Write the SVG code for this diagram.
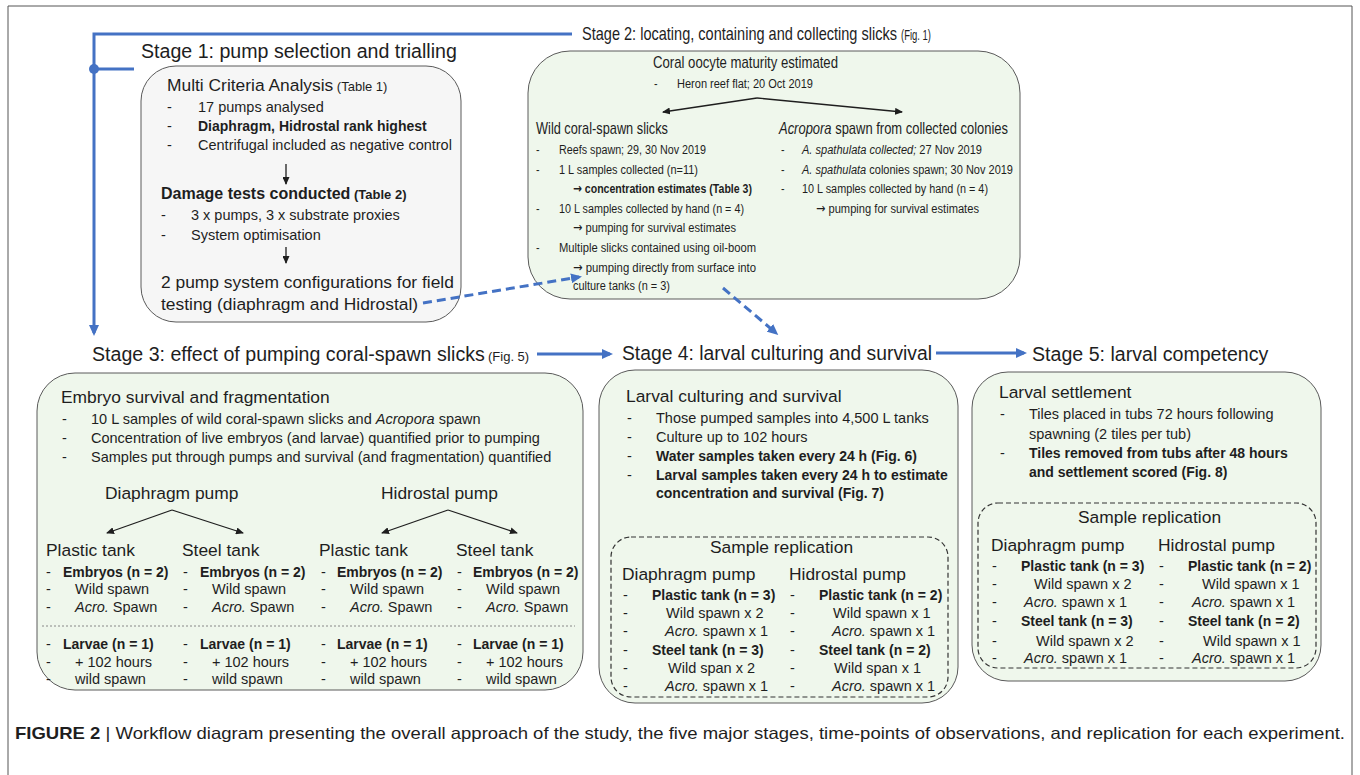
<svg xmlns="http://www.w3.org/2000/svg" width="1360" height="775" viewBox="0 0 1360 775">
<style>
text{font-family:"Liberation Sans",Arial,sans-serif;fill:#1e1e1e}
.t1{font-size:19.6px}
.h{font-size:17.4px}
.b{font-size:14.5px}
.bb{font-size:14px;font-weight:bold}
.sm{font-size:13px}
.hb{font-size:16px;font-weight:bold}
.s2t{font-size:18.2px}
.s2h{font-size:16.4px}
.s2{font-size:13.5px}
.ar{font-family:"DejaVu Sans",sans-serif}
.i{font-style:italic}
.box{stroke:#5a5a5a;stroke-width:1}
.green{fill:#eff7ec}
.gray{fill:#f6f6f6}
.dbox{fill:none;stroke:#333;stroke-width:1.2;stroke-dasharray:5 3}
.blue{fill:none;stroke:#4472c4;stroke-width:3}
.bdash{fill:none;stroke:#4472c4;stroke-width:3;stroke-dasharray:9 5}
.karr{fill:none;stroke:#1e1e1e;stroke-width:1.3}
</style>
<defs>
<marker id="ba" markerUnits="userSpaceOnUse" markerWidth="11" markerHeight="10" refX="8" refY="5" orient="auto"><path d="M0,0 L11,5 L0,10 z" fill="#4472c4"/></marker>
<marker id="ka" markerUnits="userSpaceOnUse" markerWidth="8" markerHeight="7" refX="7" refY="3.5" orient="auto"><path d="M0,0 L8,3.5 L0,7 z" fill="#1e1e1e"/></marker>
</defs>
<path d="M8,776 V6 H1352 V776" fill="none" stroke="#555" stroke-width="1"/>

<g id="stage1">
<text class="t1" x="141" y="58">Stage 1: pump selection and trialling</text>
<rect class="box gray" x="141" y="66" width="320" height="256" rx="35" ry="35"/>
<text x="167" y="91"><tspan class="h">Multi Criteria Analysis</tspan><tspan class="sm"> (Table 1)</tspan></text>
<text class="b" x="167" y="112">-</text><text class="b" x="198" y="112">17 pumps analysed</text>
<text class="b" x="167" y="131">-</text><text class="bb" x="198" y="131">Diaphragm, Hidrostal rank highest</text>
<text class="b" x="167" y="150">-</text><text class="b" x="198" y="150">Centrifugal included as negative control</text>
<path class="karr" d="M286,164 V184" marker-end="url(#ka)"/>
<text x="161" y="199"><tspan class="hb">Damage tests conducted</tspan><tspan class="sm" font-weight="bold"> (Table 2)</tspan></text>
<text class="b" x="161" y="220">-</text><text class="b" x="191" y="220">3 x pumps, 3 x substrate proxies</text>
<text class="b" x="161" y="240">-</text><text class="b" x="191" y="240">System optimisation</text>
<path class="karr" d="M286,247 V263" marker-end="url(#ka)"/>
<text class="h" x="161" y="288">2 pump system configurations for field</text>
<text class="h" x="161" y="310">testing (diaphragm and Hidrostal)</text>
</g>

<g id="stage2">
<rect class="box green" x="528" y="51" width="492" height="248" rx="42" ry="42"/>
<path class="karr" d="M757,98 L663,112" marker-end="url(#ka)"/>
<path class="karr" d="M757,98 L902,112" marker-end="url(#ka)"/>
<g transform="translate(528,0) scale(0.8,1)">
<text class="s2t" x="67.5" y="40" textLength="393.75" lengthAdjust="spacingAndGlyphs">Stage 2: locating, containing and collecting slicks</text>
<text x="466.25" y="40" font-size="14.5" textLength="37.5" lengthAdjust="spacingAndGlyphs">(Fig. 1)</text>
<text class="s2h" x="156.25" y="68" textLength="231.25" lengthAdjust="spacingAndGlyphs">Coral oocyte maturity estimated</text>
<text class="s2" x="157.5" y="88">-</text>
<text class="s2" x="186.25" y="88" textLength="170" lengthAdjust="spacingAndGlyphs">Heron reef flat; 20 Oct 2019</text>
<text class="s2h" x="10" y="134" textLength="165" lengthAdjust="spacingAndGlyphs">Wild coral-spawn slicks</text>
<text class="s2h" x="313.75" y="134" textLength="286.25" lengthAdjust="spacingAndGlyphs"><tspan class="i">Acropora</tspan> spawn from collected colonies</text>
<text class="s2" x="10" y="154">-</text>
<text class="s2" x="38.75" y="154" textLength="183.75" lengthAdjust="spacingAndGlyphs">Reefs spawn; 29, 30 Nov 2019</text>
<text class="s2" x="10" y="174">-</text>
<text class="s2" x="38.75" y="174" textLength="173.75" lengthAdjust="spacingAndGlyphs">1 L samples collected (n=11)</text>
<text class="s2" x="56.25" y="193" font-weight="bold" textLength="223.75" lengthAdjust="spacingAndGlyphs"><tspan class="ar">→</tspan> concentration estimates (Table 3)</text>
<text class="s2" x="10" y="213">-</text>
<text class="s2" x="38.75" y="213" textLength="231.25" lengthAdjust="spacingAndGlyphs">10 L samples collected by hand (n = 4)</text>
<text class="s2" x="56.25" y="232" textLength="203.75" lengthAdjust="spacingAndGlyphs"><tspan class="ar">→</tspan> pumping for survival estimates</text>
<text class="s2" x="10" y="252">-</text>
<text class="s2" x="38.75" y="252" textLength="246.25" lengthAdjust="spacingAndGlyphs">Multiple slicks contained using oil-boom</text>
<text class="s2" x="56.25" y="272" textLength="228.75" lengthAdjust="spacingAndGlyphs"><tspan class="ar">→</tspan> pumping directly from surface into</text>
<text class="s2" x="56.25" y="290" textLength="121.25" lengthAdjust="spacingAndGlyphs">culture tanks (n = 3)</text>
<text class="s2" x="316.25" y="154">-</text>
<text class="s2" x="342.5" y="154" textLength="225" lengthAdjust="spacingAndGlyphs"><tspan class="i">A. spathulata collected;</tspan> 27 Nov 2019</text>
<text class="s2" x="316.25" y="174">-</text>
<text class="s2" x="342.5" y="174" textLength="263.75" lengthAdjust="spacingAndGlyphs"><tspan class="i">A. spathulata</tspan> colonies spawn; 30 Nov 2019</text>
<text class="s2" x="316.25" y="193">-</text>
<text class="s2" x="342.5" y="193" textLength="232.5" lengthAdjust="spacingAndGlyphs">10 L samples collected by hand (n = 4)</text>
<text class="s2" x="360" y="213" textLength="203.75" lengthAdjust="spacingAndGlyphs"><tspan class="ar">→</tspan> pumping for survival estimates</text>
</g>
</g>

<g id="stage3">
<text class="t1" x="92" y="361">Stage 3: effect of pumping coral-spawn slicks</text>
<text class="sm" x="488" y="361">(Fig. 5)</text>
<rect class="box green" x="37" y="373" width="546" height="317" rx="38" ry="38"/>
<text class="h" x="61" y="403">Embryo survival and fragmentation</text>
<text class="b" x="62" y="424">-</text><text class="b" x="91" y="424">10 L samples of wild coral-spawn slicks and <tspan class="i">Acropora</tspan> spawn</text>
<text class="b" x="62" y="443">-</text><text class="b" x="91" y="443">Concentration of live embryos (and larvae) quantified prior to pumping</text>
<text class="b" x="62" y="462">-</text><text class="b" x="91" y="462">Samples put through pumps and survival (and fragmentation) quantified</text>
<text class="h" x="105" y="499">Diaphragm pump</text>
<text class="h" x="381" y="499">Hidrostal pump</text>
<path class="karr" d="M172,510 L107,533" marker-end="url(#ka)"/>
<path class="karr" d="M172,510 L243,533" marker-end="url(#ka)"/>
<path class="karr" d="M448,510 L382,533" marker-end="url(#ka)"/>
<path class="karr" d="M448,510 L517,533" marker-end="url(#ka)"/>
<text class="h" x="46" y="556">Plastic tank</text>
<text class="h" x="182" y="556">Steel tank</text>
<text class="h" x="319" y="556">Plastic tank</text>
<text class="h" x="456" y="556">Steel tank</text>
<g class="b">
<text x="46" y="577">-</text><text x="46" y="594">-</text><text x="46" y="612">-</text>
<text x="183" y="577">-</text><text x="183" y="594">-</text><text x="183" y="612">-</text>
<text x="321" y="577">-</text><text x="321" y="594">-</text><text x="321" y="612">-</text>
<text x="457" y="577">-</text><text x="457" y="594">-</text><text x="457" y="612">-</text>
<text x="46" y="649">-</text><text x="46" y="667">-</text><text x="46" y="684">-</text>
<text x="183" y="649">-</text><text x="183" y="667">-</text><text x="183" y="684">-</text>
<text x="321" y="649">-</text><text x="321" y="667">-</text><text x="321" y="684">-</text>
<text x="457" y="649">-</text><text x="457" y="667">-</text><text x="457" y="684">-</text>
</g>
<text class="bb" x="63" y="577">Embryos (n = 2)</text>
<text class="bb" x="200" y="577">Embryos (n = 2)</text>
<text class="bb" x="337" y="577">Embryos (n = 2)</text>
<text class="bb" x="473" y="577">Embryos (n = 2)</text>
<text class="b" x="75" y="594">Wild spawn</text>
<text class="b" x="212" y="594">Wild spawn</text>
<text class="b" x="350" y="594">Wild spawn</text>
<text class="b" x="486" y="594">Wild spawn</text>
<text class="b" x="75" y="612"><tspan class="i">Acro.</tspan> Spawn</text>
<text class="b" x="212" y="612"><tspan class="i">Acro.</tspan> Spawn</text>
<text class="b" x="350" y="612"><tspan class="i">Acro.</tspan> Spawn</text>
<text class="b" x="486" y="612"><tspan class="i">Acro.</tspan> Spawn</text>
<path d="M42,626 H575" stroke="#888" stroke-width="1" stroke-dasharray="2 2"/>
<text class="bb" x="63" y="649">Larvae (n = 1)</text>
<text class="bb" x="200" y="649">Larvae (n = 1)</text>
<text class="bb" x="337" y="649">Larvae (n = 1)</text>
<text class="bb" x="473" y="649">Larvae (n = 1)</text>
<text class="b" x="75" y="667">+ 102 hours</text>
<text class="b" x="212" y="667">+ 102 hours</text>
<text class="b" x="350" y="667">+ 102 hours</text>
<text class="b" x="486" y="667">+ 102 hours</text>
<text class="b" x="75" y="684">wild spawn</text>
<text class="b" x="212" y="684">wild spawn</text>
<text class="b" x="350" y="684">wild spawn</text>
<text class="b" x="486" y="684">wild spawn</text>
</g>

<g id="stage4">
<text class="t1" x="622" y="360" textLength="310" lengthAdjust="spacingAndGlyphs">Stage 4: larval culturing and survival</text>
<rect class="box green" x="599" y="370" width="359" height="333" rx="36" ry="36"/>
<text class="h" x="626" y="402">Larval culturing and survival</text>
<text class="b" x="627" y="423">-</text><text class="b" x="656" y="423">Those pumped samples into 4,500 L tanks</text>
<text class="b" x="627" y="442">-</text><text class="b" x="656" y="442">Culture up to 102 hours</text>
<text class="b" x="627" y="461">-</text><text class="bb" x="656" y="461">Water samples taken every 24 h (Fig. 6)</text>
<text class="b" x="627" y="480">-</text><text class="bb" x="656" y="480">Larval samples taken every 24 h to estimate</text>
<text class="bb" x="656" y="498">concentration and survival (Fig. 7)</text>
<rect class="dbox" x="611" y="537" width="337" height="160" rx="20" ry="20"/>
<text class="h" x="710" y="553">Sample replication</text>
<text class="h" x="622" y="580">Diaphragm pump</text>
<text class="h" x="789" y="580">Hidrostal pump</text>
<g class="b">
<text x="623" y="600">-</text><text x="623" y="618">-</text><text x="623" y="636">-</text><text x="623" y="655">-</text><text x="623" y="673">-</text><text x="623" y="691">-</text>
<text x="790" y="600">-</text><text x="790" y="618">-</text><text x="790" y="636">-</text><text x="790" y="655">-</text><text x="790" y="673">-</text><text x="790" y="691">-</text>
</g>
<text class="bb" x="652" y="600">Plastic tank (n = 3)</text>
<text class="b" x="666" y="618">Wild spawn x 2</text>
<text class="b" x="665" y="636"><tspan class="i">Acro.</tspan> spawn x 1</text>
<text class="bb" x="652" y="655">Steel tank (n = 3)</text>
<text class="b" x="668" y="673">Wild span x 2</text>
<text class="b" x="665" y="691"><tspan class="i">Acro.</tspan> spawn x 1</text>
<text class="bb" x="819" y="600">Plastic tank (n = 2)</text>
<text class="b" x="833" y="618">Wild spawn x 1</text>
<text class="b" x="832" y="636"><tspan class="i">Acro.</tspan> spawn x 1</text>
<text class="bb" x="819" y="655">Steel tank (n = 2)</text>
<text class="b" x="834" y="673">Wild span x 1</text>
<text class="b" x="832" y="691"><tspan class="i">Acro.</tspan> spawn x 1</text>
</g>

<g id="stage5">
<text class="t1" x="1032" y="361">Stage 5: larval competency</text>
<rect class="box green" x="972" y="372" width="349" height="309" rx="36" ry="36"/>
<text class="h" x="999" y="398">Larval settlement</text>
<text class="b" x="1000" y="419">-</text><text class="b" x="1029" y="419">Tiles placed in tubs 72 hours following</text>
<text class="b" x="1029" y="439">spawning (2 tiles per tub)</text>
<text class="b" x="1000" y="458">-</text><text class="bb" x="1029" y="458">Tiles removed from tubs after 48 hours</text>
<text class="bb" x="1029" y="477">and settlement scored (Fig. 8)</text>
<rect class="dbox" x="978" y="503" width="338" height="165" rx="20" ry="20"/>
<text class="h" x="1078" y="523">Sample replication</text>
<text class="h" x="991" y="551">Diaphragm pump</text>
<text class="h" x="1158" y="551">Hidrostal pump</text>
<g class="b">
<text x="992" y="571">-</text><text x="992" y="589">-</text><text x="992" y="607">-</text><text x="992" y="626">-</text><text x="992" y="646">-</text><text x="992" y="663">-</text>
<text x="1159" y="571">-</text><text x="1159" y="589">-</text><text x="1159" y="607">-</text><text x="1159" y="626">-</text><text x="1159" y="646">-</text><text x="1159" y="663">-</text>
</g>
<text class="bb" x="1021" y="571">Plastic tank (n = 3)</text>
<text class="b" x="1034" y="589">Wild spawn x 2</text>
<text class="b" x="1024" y="607"><tspan class="i">Acro.</tspan> spawn x 1</text>
<text class="bb" x="1021" y="626">Steel tank (n = 3)</text>
<text class="b" x="1036" y="646">Wild spawn x 2</text>
<text class="b" x="1024" y="663"><tspan class="i">Acro.</tspan> spawn x 1</text>
<text class="bb" x="1188" y="571">Plastic tank (n = 2)</text>
<text class="b" x="1202" y="589">Wild spawn x 1</text>
<text class="b" x="1192" y="607"><tspan class="i">Acro.</tspan> spawn x 1</text>
<text class="bb" x="1188" y="626">Steel tank (n = 2)</text>
<text class="b" x="1203" y="646">Wild spawn x 1</text>
<text class="b" x="1192" y="663"><tspan class="i">Acro.</tspan> spawn x 1</text>
</g>

<g id="connectors">
<path class="blue" d="M572,34 H94 V333" marker-end="url(#ba)"/>
<path class="blue" d="M94,69 H134"/>
<circle cx="94" cy="69" r="5" fill="#4472c4"/>
<path class="blue" d="M537,354 H610" marker-end="url(#ba)"/>
<path class="blue" d="M936,353 H1024" marker-end="url(#ba)"/>
<path class="bdash" d="M423,303 L579,277" marker-end="url(#ba)"/>
<path class="bdash" d="M723,288 L776,333" marker-end="url(#ba)"/>
</g>

<g id="caption">
<text x="15" y="739" font-size="16.5" textLength="1330" lengthAdjust="spacingAndGlyphs"><tspan font-weight="bold">FIGURE 2 </tspan>| Workflow diagram presenting the overall approach of the study, the five major stages, time-points of observations, and replication for each experiment.</text>
</g>
</svg>
